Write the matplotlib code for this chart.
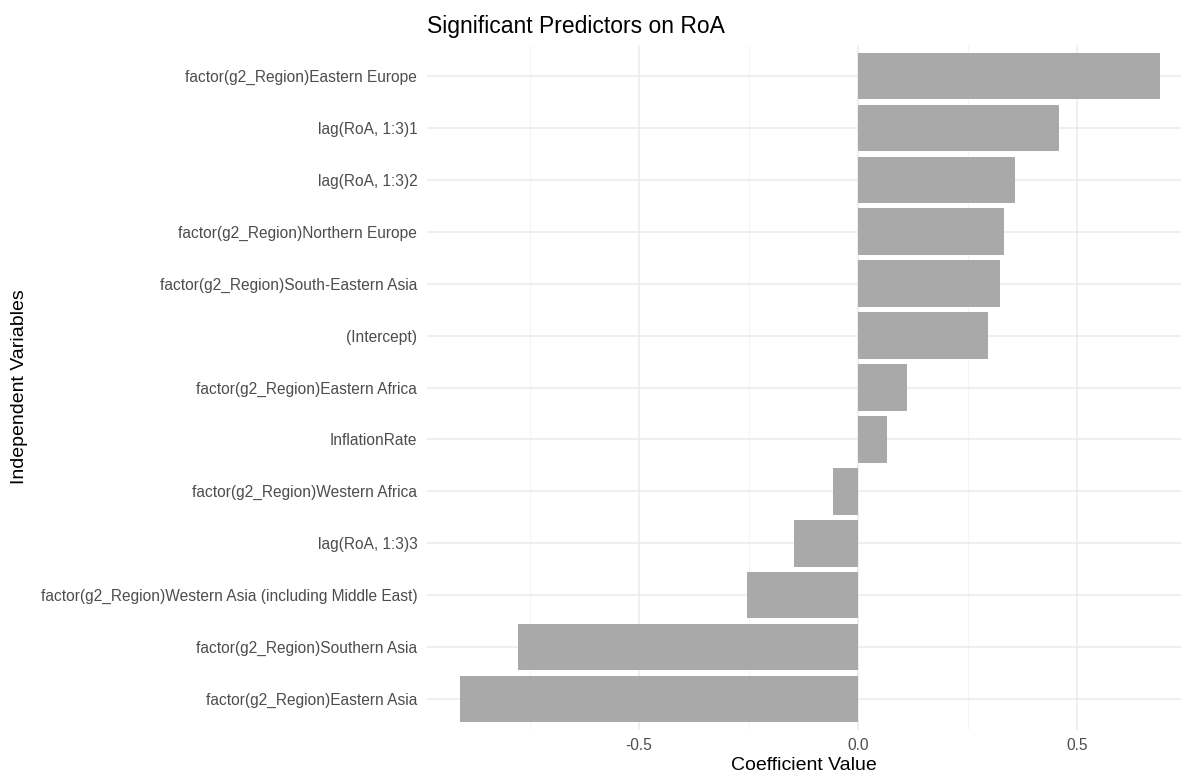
import matplotlib.pyplot as plt
from matplotlib.ticker import FixedLocator

plt.rcParams['font.family'] = ['Liberation Sans', 'DejaVu Sans']

# Data (bottom to top)
predictors = [
    'factor(g2_Region)Eastern Asia',
    'factor(g2_Region)Southern Asia',
    'factor(g2_Region)Western Asia (including Middle East)',
    'lag(RoA, 1:3)3',
    'factor(g2_Region)Western Africa',
    'InflationRate',
    'factor(g2_Region)Eastern Africa',
    '(Intercept)',
    'factor(g2_Region)South-Eastern Asia',
    'factor(g2_Region)Northern Europe',
    'lag(RoA, 1:3)2',
    'lag(RoA, 1:3)1',
    'factor(g2_Region)Eastern Europe',
]
coefs = [-0.908, -0.776, -0.253, -0.147, -0.057, 0.067, 0.112,
         0.296, 0.323, 0.333, 0.358, 0.459, 0.690]

x_ticks = [-0.5, 0.0, 0.5]
x_minor = [-0.75, -0.25, 0.25, 0.75]

fig = plt.figure(figsize=(11.81, 7.74), dpi=100)
ax = fig.add_axes([427 / 1181, 44 / 774, (1181 - 427) / 1181, (730 - 45) / 774])

ypos = range(len(predictors))
ax.barh(ypos, coefs, height=0.9, color='#A9A9A9', zorder=2)

ax.set_xlim(-0.984, 0.737)
ax.set_ylim(-0.6, len(predictors) - 0.4)
ax.set_yticks(list(ypos))
ax.set_yticklabels(predictors)
ax.set_xticks(x_ticks)
ax.set_xticklabels(['-0.5', '0.0', '0.5'])
ax.xaxis.set_minor_locator(FixedLocator(x_minor))

ax.grid(which='major', color='#EBEBEB', linewidth=1.1, zorder=0)
ax.grid(which='minor', axis='x', color='#F2F2F2', linewidth=0.6, zorder=0)
ax.set_axisbelow(True)
for s in ax.spines.values():
    s.set_visible(False)
ax.tick_params(which='both', length=0)
ax.tick_params(axis='y', pad=7, labelsize=11.2, labelcolor='#4D4D4D')
ax.tick_params(axis='x', pad=6, labelsize=11.2, labelcolor='#4D4D4D')

ax.set_xlabel('Coefficient Value', fontsize=14, labelpad=3)
ax.set_title('Significant Predictors on RoA', loc='left', fontsize=16.5, pad=9)
fig.text(20 / 1181, 1 - 387 / 774, 'Independent Variables', rotation=90,
         ha='center', va='center', fontsize=14)

fig.savefig('out.png', dpi=100)
